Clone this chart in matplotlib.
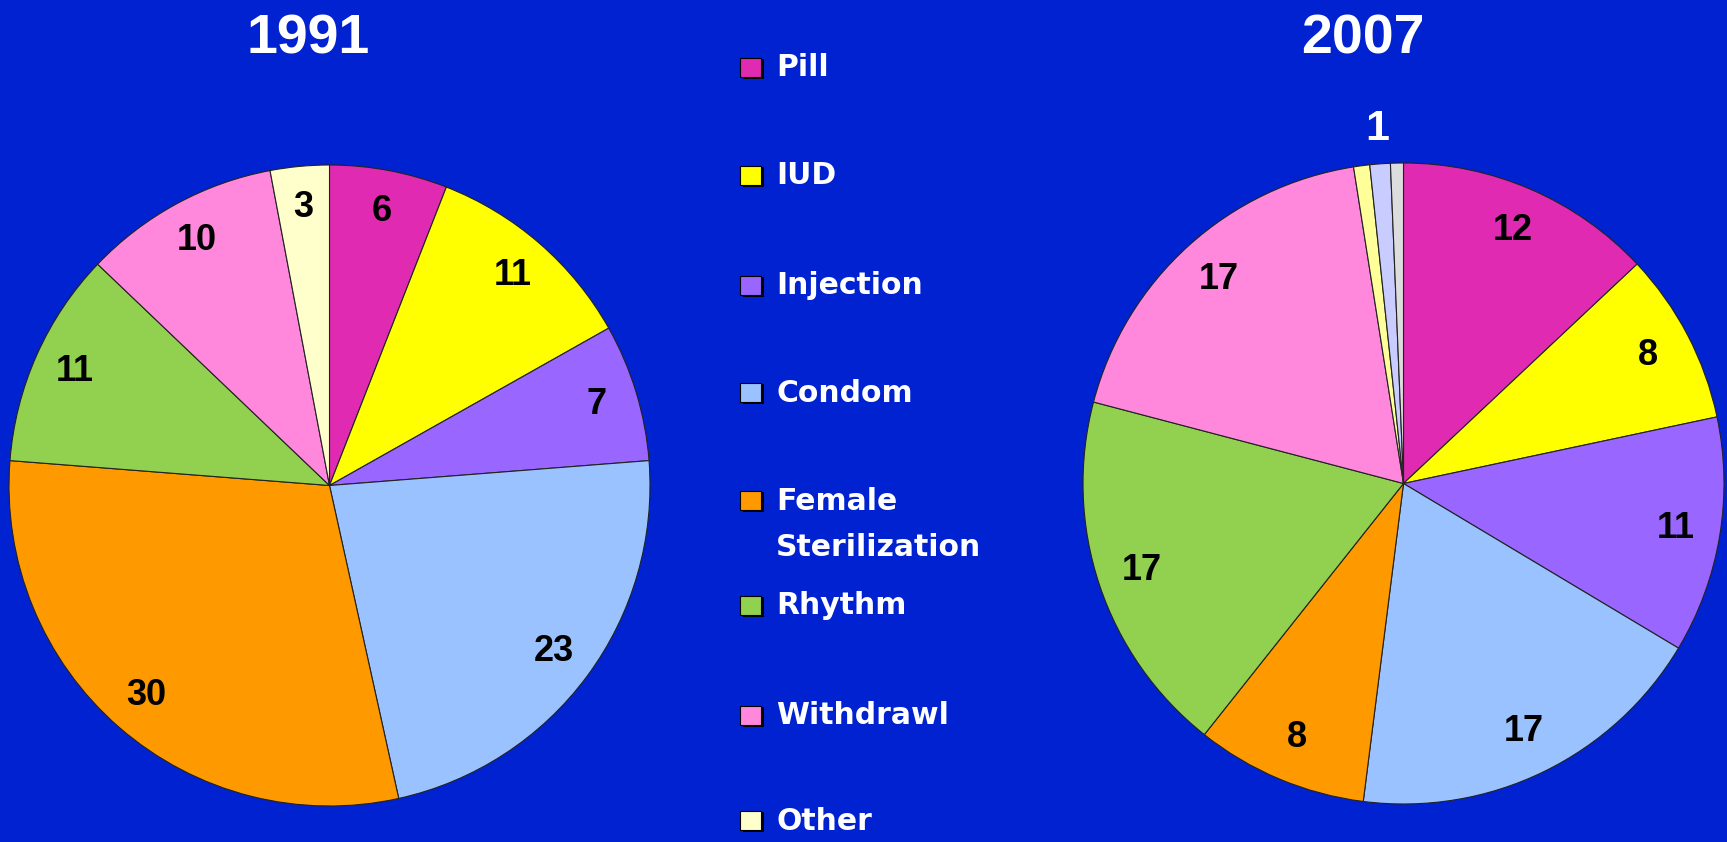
import numpy as np
import matplotlib.pyplot as plt
from matplotlib.patches import Rectangle

methods = ["Pill", "IUD", "Injection", "Condom", "Female\nSterilization",
           "Rhythm", "Withdrawl", "Other"]
colors = ["#E02AB2", "#FFFF00", "#9966FF", "#99C2FF", "#FF9900",
          "#92D050", "#FF88DD", "#FFFFCC"]

vals_1991 = [6, 11, 7, 23, 30, 11, 10, 3]
labels_1991 = ["6", "11", "7", "23", "30", "11", "10", "3"]

# 2007 has three thin slices at the end, only one labelled
vals_2007 = [12, 8, 11, 17, 8, 17, 17, 0.75, 0.95, 0.6]
labels_2007 = ["12", "8", "11", "17", "8", "17", "17", "", "1", ""]
colors_2007 = colors[:7] + ["#FFFF99", "#C8CCFF", "#DDDDDD"]
label_r_2007 = [0.86] * 7 + [0.86, 1.11, 0.86]

bg = "#0022D0"
W, H = 1727, 842

fig = plt.figure(figsize=(W / 100, H / 100), dpi=100, facecolor=bg)


def draw_pie(rect, vals, cols, labels, label_r):
    ax = fig.add_axes(rect)
    ax.set_facecolor(bg)
    wedges, _ = ax.pie(vals, colors=cols, startangle=90, counterclock=False,
                       wedgeprops=dict(edgecolor="#222222", linewidth=0.8))
    for w, lab, r in zip(wedges, labels, label_r):
        if not lab:
            continue
        ang = np.deg2rad((w.theta1 + w.theta2) / 2)
        outside = r > 1
        ax.text(r * np.cos(ang), r * np.sin(ang), lab, ha="center", va="center",
                fontsize=31 if outside else 26, fontweight="bold",
                color="white" if outside else "black",
                family="Liberation Sans")
    ax.set_xlim(-1, 1)
    ax.set_ylim(-1, 1)
    ax.set_aspect("equal")
    ax.axis("off")
    return ax


draw_pie([9 / W, 36 / H, 641 / W, 641 / H], vals_1991, colors, labels_1991, [0.87] * 8)
draw_pie([1083 / W, 38 / H, 641 / W, 641 / H], vals_2007, colors_2007, labels_2007, label_r_2007)

fig.text(308 / W, 1 - 40 / H, "1991", ha="center", va="center", color="white",
         fontsize=40, fontweight="bold", family="Liberation Sans")
fig.text(1363 / W, 1 - 40 / H, "2007", ha="center", va="center", color="white",
         fontsize=40, fontweight="bold", family="Liberation Sans")

# legend drawn by hand
leg_y = [68, 176, 286, 393, 501, 606, 716, 821]
for name, c, y in zip(methods, colors, leg_y):
    fig.patches.append(Rectangle((743 / W, 1 - (y + 11) / H), 21 / W, 20 / H,
                                 transform=fig.transFigure, facecolor="black"))
    fig.patches.append(Rectangle((740 / W, 1 - (y + 9) / H), 21 / W, 19 / H,
                                 transform=fig.transFigure, facecolor=c,
                                 edgecolor="black", linewidth=0.8))
    lines = name.split("\n")
    for k, line in enumerate(lines):
        fig.text(776 / W, 1 - (y + 46 * k) / H, line, ha="left", va="center",
                 color="white", fontsize=21.5, fontweight="bold",
                 family="DejaVu Sans")

fig.savefig("out.png", dpi=100, facecolor=bg)
